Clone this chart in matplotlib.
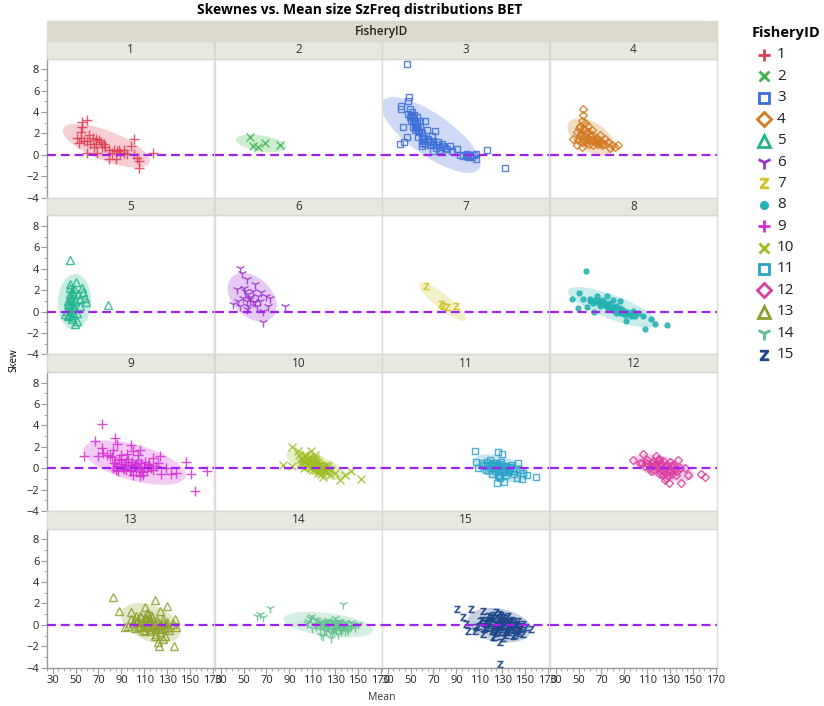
import numpy as np
import matplotlib
matplotlib.use('Agg')
import matplotlib.pyplot as plt
from matplotlib.patches import Rectangle
from matplotlib.lines import Line2D
from matplotlib.ticker import FixedLocator

plt.rcParams['font.family'] = ['Open Sans', 'DejaVu Sans']

# (Mean, Skew) pairs
f1 = np.array([[60.4, 3.3], [56, 3.1], [55.5, 2.6], [54.6, 2.1], [51, 1.6], [54.6, 1.6], [57.5, 1.3],
               [62, 1.9], [65, 1.6], [67.7, 1.5], [70.6, 1.4], [72, 1.2], [75, 1.0], [76, 0.7],
               [79, 0.5], [83.6, 0.5], [86.5, 0.4], [89, 0.2], [92, 0.2], [98, 0.8], [101, 1.5],
               [101, 0.06], [104, -0.25], [105, -0.6], [105, -1.2], [79, -0.4], [85, -0.4],
               [59.6, 0.2], [69, 0.2], [118, 0.2], [53, 1.15], [67.7, 1.0], [73.5, 0.7], [82, 0.2],
               [66, 0.7], [88, 0.5], [92, 0.5], [95, 0.06], [62.5, 1.0], [59.6, 1.3]])
f2 = np.array([[55.5, 1.7], [58.4, 0.85], [62.7, 0.75], [68.5, 1.15], [81.5, 0.9]])
f3 = np.array([[46.6, 8.5], [48.9, 5.4], [48, 5.07], [41.3, 4.6], [41.3, 4.3], [49.5, 4.3], [50.9, 4.0],
               [49.5, 3.5], [52.4, 3.4], [53.8, 3.05], [55.3, 3.5], [58.2, 3.2], [62.5, 3.2],
               [55.3, 2.7], [56.7, 2.3], [43, 2.6], [47.1, 1.65], [40.7, 1.0], [44.2, 1.2],
               [53.8, 2.3], [59.6, 1.8], [64, 2.3], [71.3, 2.2], [65.5, 1.5], [69.8, 1.3],
               [59.6, 1.1], [59.6, 0.8], [74.2, 1.2], [77.1, 1.0], [69.8, 0.4], [75.6, 0.7],
               [84.3, 0.8], [90.2, 0.56], [81.4, 0.56], [93, 0.03], [98.3, 0.03], [101.8, -0.07],
               [107.6, 0.09], [107.6, -0.38], [100.3, -0.22], [116.9, 0.46], [132.3, -1.2],
               [56.7, 1.65], [61.1, 1.5], [66.9, 1.2], [78.5, 0.87], [68.4, 1.8], [52.4, 2.6],
               [50.3, 3.2], [48, 3.8], [50, 3.6], [52, 3.3], [53, 3.7], [54, 2.9], [55, 2.5],
               [56, 3.0], [57, 2.1], [58, 2.6], [60, 2.0], [61, 1.3], [62, 1.6], [63, 1.0],
               [65, 1.3], [67, 0.9], [70, 1.0], [72, 0.6], [73, 0.9], [76, 0.5], [80, 0.6],
               [86, 0.4], [96, -0.1], [99, 0.1], [104, -0.2], [105, 0.0]])
f4 = np.array([[53.5, 4.3], [53.5, 3.7], [52.6, 3.2], [51.1, 2.7], [48.2, 2.1], [45.3, 1.5],
               [48.2, 0.9], [52.6, 0.7], [56.9, 1.2], [55.5, 2.3], [59.9, 1.8], [62.8, 1.5],
               [65.7, 1.6], [68.6, 1.3], [73, 1.5], [75.9, 1.2], [78.8, 0.9], [81.7, 0.7],
               [84.6, 0.9], [77.4, 0.6], [58.4, 2.7], [61.3, 2.3], [56.9, 2.0], [51.1, 1.8],
               [54, 1.5], [65.7, 1.1], [70.1, 0.9], [68.6, 1.9], [49.6, 1.4], [55.5, 3.0],
               [50, 2.5], [52, 2.0], [54, 2.4], [55, 1.8], [57, 1.5], [58, 2.1], [60, 1.4],
               [62, 1.9], [64, 1.2], [66, 1.4], [67, 1.0], [70, 1.1], [72, 1.0], [53, 1.2],
               [59, 1.0], [63, 0.9]])
f5 = np.array([[45.1, 4.8], [50.3, 2.8], [55.2, 2.2], [56.6, 1.8], [58, 1.3], [59.5, 0.85],
               [78.4, 0.6], [46.5, 1.9], [45.1, 1.3], [43.7, 0.7], [42.2, 0.06], [40.8, -0.25],
               [46.5, -0.7], [49.4, -1.2], [50.9, -0.9], [47.9, 0.37], [49.4, 1.0], [52.3, 1.6],
               [53.7, 0.5], [50.9, -0.1], [45.1, 2.55], [48.6, 2.1], [43.7, -0.4], [53.7, 1.15],
               [43, 1.0], [44, 0.5], [45, 1.6], [46, 0.2], [47, 1.1], [48, 0.0], [46, 0.8],
               [44, -0.3], [48, 1.7], [49, 0.4], [45, 2.2], [47, -0.5]])
f6 = np.array([[46.8, 4.1], [48.3, 3.6], [52.6, 3.0], [43.9, 2.1], [51.1, 1.9], [58.4, 1.9],
               [62.7, 1.5], [70, 1.5], [72.9, 1.3], [41, 0.7], [46.8, 0.5], [54.1, 0.5],
               [61.3, 0.5], [71.5, 0.5], [86, 0.5], [67.1, -1.0], [49.7, 1.3], [55.5, 1.15],
               [58.4, 0.85], [64.2, 1.0], [52.6, 0.2], [45.4, 1.0], [67.1, 0.06], [59.9, 2.55],
               [54.1, 1.6], [50, 2.2], [56, 1.4], [60, 0.9], [65, 1.8], [53, 1.0]])
f7 = np.array([[63.4, 2.4], [77.0, 0.75], [81.4, 0.44], [90.1, 0.5], [78.5, 0.5]])
f8 = np.array([[56.4, 3.77], [50.6, 1.74], [44.2, 1.2], [49.7, 0.34], [57, 0.44], [63.6, 0.0],
               [59.9, 0.97], [65.7, 1.43], [70.1, 1.12], [74.4, 1.43], [77.3, 0.81], [80.2, 1.12],
               [83.1, 0.5], [86, 0.97], [88.9, 0.19], [93.3, -0.12], [91.8, -0.9], [97.6, 0.03],
               [106.3, -0.44], [107.8, -1.6], [113.6, -0.69], [116.5, -1.12], [127.6, -1.3],
               [102, -0.12], [62.8, 0.81], [68.6, 0.5], [80.2, 0.19], [86, -0.12], [73, 0.65],
               [83.1, -0.12], [96.2, -0.44], [54, 1.2], [75.8, 0.34], [90.4, -0.28],
               [60, 1.2], [64, 1.1], [66, 0.9], [68, 1.0], [70, 0.7], [72, 0.9], [74, 0.5],
               [76, 0.7], [78, 0.3], [81, 0.4], [84, 0.2], [86, 0.3], [88, -0.1], [92, 0.0],
               [95, -0.3], [99, -0.4]])
f9 = np.array([[72.7, 4.1], [67.4, 2.55], [57.6, 1.1], [84.3, 2.8], [85.8, 2.3], [98.2, 2.2],
               [72.7, 1.87], [83.1, 1.7], [69.7, 1.1], [80, 1.1], [84.3, 0.47], [90.1, 0.78],
               [100.3, 1.56], [104.6, 1.25], [106.1, 1.7], [96, 0.31], [101.7, 0.16], [107.6, 0.0],
               [109, -0.62], [110.5, 0.62], [117.7, 0.93], [122.1, 0.47], [123.5, 1.09],
               [129.4, 0.0], [125, -0.56], [133.7, -0.56], [138.1, -0.47], [146.8, 0.56],
               [151.2, -0.56], [154.7, -2.1], [165.1, -0.25], [91.5, 0.0], [87.2, -0.31],
               [94.5, -0.16], [103.2, -0.31], [116.3, 0.0], [82.8, 0.0], [90.1, 1.25],
               [104.6, 0.78], [98.8, 0.31], [113.4, 0.31], [93, 0.31], [97.4, -0.31],
               [77.1, 1.25], [74.1, 1.4], [82, 1.0], [84, 0.5], [86, 0.2], [88, 0.9], [90, 0.4],
               [92, -0.1], [94, 0.6], [96, 0.9], [98, -0.2], [99, 0.6], [101, 0.2], [103, 0.4],
               [105, -0.1], [107, 0.5], [108, -0.4], [110, 0.1], [112, -0.3], [114, 0.4],
               [118, -0.2], [120, 0.2], [85, -0.2], [95, 1.3], [100, -0.6], [106, -0.7]])
f10 = np.array([[91.9, 2.0], [97.6, 1.6], [84.6, 0.25], [91.9, 0.16], [103.5, 1.2], [109.3, 1.56],
                [100.6, 0.47], [106.4, 0.78], [112.2, 0.31], [115.1, 0.62], [118, 0.0],
                [120.9, -0.31], [123.8, 0.16], [126.8, -0.16], [129.6, -0.47], [134, -1.09],
                [138.4, -0.62], [144.2, -0.25], [152.9, -1.0], [109.3, 0.0], [115.1, -0.47],
                [119.5, -0.78], [106.4, 0.16], [112.2, 0.93], [102.1, 0.87], [125.3, -0.62],
                [122.4, 0.31], [116.6, 0.16], [113.7, -0.16], [100, 0.9], [102, 0.5], [104, 1.1],
                [105, 0.3], [107, 0.6], [108, 1.0], [109, 0.1], [110, 0.6], [111, -0.2],
                [113, 0.5], [114, 0.1], [116, -0.2], [117, 0.3], [118, -0.5], [120, 0.0],
                [122, -0.4], [124, -0.1], [98, 1.2], [103, 0.0], [112, 1.2], [106, 0.4],
                [108, 0.8], [111, 0.3], [113, 0.8], [115, 0.3], [117, -0.1], [119, 0.2],
                [121, -0.2], [105, 0.9], [110, 0.4]])
f11 = np.array([[106.1, 1.56], [126.4, 1.5], [130.2, 1.34], [107.6, 0.62], [109, 0.06],
                [119.2, 0.78], [125, 0.47], [130.8, 0.16], [136.6, 0.0], [143.8, 0.47],
                [145.3, -0.16], [148.2, -0.47], [152, -0.62], [159.9, -0.84], [147.6, -1.03],
                [143, -0.93], [131.6, -1.25], [125.5, -1.4], [126.4, -0.69], [116.3, -0.16],
                [122.1, 0.0], [127.9, -0.31], [133.7, -0.62], [139.5, -0.31], [120.7, 0.31],
                [129.4, 0.62], [138.1, 0.31], [113.4, 0.31], [112, 0.5], [115, 0.2], [117, 0.6],
                [118, -0.2], [120, 0.4], [121, -0.5], [123, 0.2], [124, -0.1], [126, 0.3],
                [127, -0.6], [129, 0.1], [131, -0.3], [133, 0.2], [135, -0.4], [137, 0.1],
                [140, -0.5], [142, -0.1], [119, 0.0], [128, -0.9], [122, 0.5], [125, 0.1],
                [128, 0.4], [130, -0.1], [132, -0.4], [134, 0.1], [136, -0.2], [124, -0.3]])
f12 = np.array([[97.6, 0.78], [106.4, 1.31], [118, 1.09], [109.3, 0.47], [115.1, 0.16],
                [122.4, 0.47], [126.8, 0.0], [131.1, -0.31], [136.9, 0.78], [138.4, 0.0],
                [142.7, 0.0], [145.6, -0.62], [139.8, -1.4], [129, -1.4], [125.3, -1.09],
                [157.3, -0.56], [160.8, -0.78], [120.9, -0.31], [132.6, 0.31], [123.8, -0.62],
                [113.7, -0.31], [119.5, 0.78], [129.6, 0.62], [135.5, -0.62], [103.5, 0.47],
                [105, 0.5], [108, 0.2], [110, 0.8], [112, 0.0], [114, 0.5], [116, -0.2],
                [117, 0.4], [119, 0.1], [121, -0.5], [122, 0.2], [124, 0.7], [125, -0.3],
                [127, 0.3], [128, -0.7], [130, -0.1], [132, -0.5], [134, 0.0], [136, -0.3],
                [120, 0.9], [126, -0.9], [111, 0.4], [115, 0.7], [118, 0.3], [121, 0.5],
                [123, -0.2], [126, 0.2], [129, -0.3], [131, 0.2], [133, -0.2]])
f13 = np.array([[83.1, 2.6], [87.8, 1.34], [98.2, 1.18], [110.5, 1.65], [119.2, 2.34], [130.2, 1.74],
                [123.5, 1.34], [136.6, 0.56], [96, -0.06], [93, -0.22], [101.7, 0.4], [107.6, 0.72],
                [113.4, 0.25], [116.3, -0.37], [122.1, -1.62], [122.7, -1.93], [136, -2.0],
                [127.9, -1.0], [120.7, -0.84], [110.5, -0.53], [104.6, -0.22], [119.2, 0.09],
                [126.4, 0.56], [130.8, -0.22], [138.1, -0.22], [135.2, 0.09], [98.8, 0.56],
                [103.2, 0.87], [113.4, 1.03], [125, -0.37], [116.3, 0.4], [100, 0.2], [102, -0.3],
                [104, 0.4], [106, -0.1], [108, 0.3], [109, -0.5], [111, 0.6], [112, -0.2],
                [114, 0.3], [115, -0.6], [117, 0.7], [118, 0.0], [120, -0.4], [121, 0.5],
                [123, -0.1], [124, -0.7], [126, 0.2], [128, -0.3], [130, 0.3], [132, -0.5],
                [106, 0.8], [112, 1.1], [116, 0.9], [119, -1.0], [126, -1.3], [105, 0.3],
                [110, 0.0], [113, 0.6], [117, -0.2], [122, 0.2], [125, 0.0], [129, 0.1]])
f14 = np.array([[61.4, 0.87], [64.2, 0.97], [67.1, 0.72], [73, 1.56], [136.9, 1.96], [109.3, 0.87],
                [112.2, 0.56], [106.4, 0.4], [118, 0.25], [123.8, -0.06], [129.6, 0.09],
                [135.5, -0.22], [141.3, -0.06], [150, 0.09], [119.5, -1.0], [125.3, -0.69],
                [132.6, -0.84], [138.4, -0.53], [126.8, 0.4], [132.6, 0.4], [144.2, 0.25],
                [116.6, -0.37], [129.6, -0.37], [122.4, -0.22], [138.4, 0.25], [113.7, -0.06],
                [105, 0.2], [108, 0.6], [110, -0.3], [114, 0.5], [117, 0.0], [120, -0.5],
                [121, 0.3], [124, 0.5], [127, -0.8], [128, 0.0], [131, -0.2], [133, 0.2],
                [135, -0.6], [137, 0.0], [140, -0.3], [143, -0.2], [146, 0.1], [118, -0.9],
                [126, -1.2], [130, 0.6], [119, 0.1], [122, -0.6], [125, 0.2], [127, -0.3],
                [129, 0.3], [131, -0.5], [133, -0.1], [134, 0.4], [136, -0.4], [139, 0.1],
                [141, -0.5], [144, -0.1], [147, -0.2], [123, 0.4], [120, 0.0], [116, 0.3],
                [112, 0.1], [128, -0.5], [134, -0.3], [138, -0.1]])
f15 = np.array([[90.7, 1.5], [103.2, 1.5], [113.4, 1.34], [96, 0.72], [98.8, 0.09], [100.3, -0.53],
                [125, 1.18], [110.5, 0.4], [116.3, 0.09], [122.1, -0.22], [127.9, -0.06],
                [133.7, 0.25], [139.5, -0.22], [145.3, -0.06], [151.2, -0.22], [155.5, -0.37],
                [148.2, -0.84], [139.5, -1.0], [127.9, -1.62], [122.1, -1.15], [113.4, -0.84],
                [107.6, -0.22], [119.2, 0.72], [130.8, 0.72], [138.1, 0.4], [127.9, -3.64],
                [106.1, -0.53], [132.3, -0.69], [125, -0.53], [143.8, -0.53], [112, 0.5],
                [115, 0.2], [118, -0.3], [120, 0.4], [122, 0.9], [124, 0.1], [125, -0.8],
                [126, 0.5], [128, -0.4], [129, 0.9], [130, 0.0], [131, -1.2], [132, 0.5],
                [134, -0.3], [135, 0.8], [136, -0.7], [137, 0.1], [140, 0.3], [141, -0.9],
                [142, 0.1], [144, 0.4], [146, -0.4], [148, 0.1], [118, 0.8], [121, -0.6],
                [127, 1.0], [133, -0.9], [123, -1.1], [138, -0.4], [116, -0.2], [110, -0.1],
                [145, -0.8], [119, 0.2], [121, 0.6], [123, -0.4], [124, 0.6], [126, -0.2],
                [127, 0.3], [129, -0.7], [130, 0.5], [132, -0.1], [133, 0.6], [134, -0.6],
                [136, 0.3], [138, -0.1], [139, 0.5], [141, -0.3], [143, 0.0], [117, 0.5],
                [114, -0.4], [128, 0.7], [135, 0.0], [131, 0.3], [125, 0.0]])

fishery_ids = list(range(1, 16))
fishery_data = [f1, f2, f3, f4, f5, f6, f7, f8, f9, f10, f11, f12, f13, f14, f15]
colors = ['#dc3c50', '#3cb44b', '#3d6fd8', '#d2781f', '#22b48c', '#9a32d0', '#cdc52a', '#24b2b2',
          '#d22dd2', '#9dbd23', '#2aa2c8', '#db3da0', '#8ea02b', '#5ec08c', '#1d4789']
z_mark = '$\\mathsf{Z}$'
markers = ['+', 'x', 's', 'D', '^', '1', z_mark, 'o', '+', 'x', 's', 'D', '^', '1', z_mark]
msizes = {'+': 6.5, 'x': 5.5, 's': 4.5, 'D': 4.5, '^': 5.5, '1': 7, z_mark: 4.8, 'o': 3.5}
legend_sizes = {'+': 9, 'x': 7.5, 's': 7, 'D': 7.5, '^': 8.5, '1': 10, z_mark: 7, 'o': 4.5}

W, H = 824, 706
fig = plt.figure(figsize=(W / 100, H / 100), dpi=100)


def fx(px):
    return px / W


def fy(py):
    return 1 - py / H


def ellipse_outline(pts, level=0.9):
    cov = np.cov(pts[:, 0], pts[:, 1])
    vals, vecs = np.linalg.eigh(cov)
    k = np.sqrt(-2 * np.log(1 - level))
    t = np.linspace(0, 2 * np.pi, 120)
    circ = np.vstack([np.cos(t), np.sin(t)])
    e = vecs @ (np.sqrt(np.clip(vals, 0, None))[:, None] * circ) * k
    return pts[:, 0].mean() + e[0], pts[:, 1].mean() + e[1]


col_left = [47, 215, 382, 550]
col_w = 167
row_strip = [41, 197.7, 354.3, 511]
strip_h = 17.5
plot_h = 139.2
strip_color = '#e8e8e0'
line_gray = '#dcdcdc'
dark_gray = '#9a9a9a'

# header band
fig.patches.append(Rectangle((fx(47), fy(41)), fx(717) - fx(47), fy(21) - fy(41),
                             transform=fig.transFigure, color='#dcdacb', zorder=0))
fig.text(fx(382), fy(31), 'FisheryID', ha='center', va='center', fontsize=8.5,
         color='#222222', fontweight='semibold')
fig.text(fx(360), fy(10), 'Skewnes vs. Mean size SzFreq distributions BET', ha='center',
         va='center', fontsize=10, fontweight='bold')

for i in range(16):
    r, c = divmod(i, 4)
    top = row_strip[r] + strip_h
    ax = fig.add_axes([fx(col_left[c]), fy(top + plot_h), col_w / W, plot_h / H])
    # strip
    fig.patches.append(Rectangle((fx(col_left[c]), fy(top)), col_w / W, strip_h / H,
                                 transform=fig.transFigure, facecolor=strip_color,
                                 edgecolor='#d8d8d0', lw=1, zorder=0))
    label = str(fishery_ids[i]) if i < 15 else ''
    fig.text(fx(col_left[c] + col_w / 2), fy(top - strip_h / 2), label, ha='center',
             va='center', fontsize=8.5, color='#333333')

    ax.set_xlim(25, 171)
    ax.set_ylim(-4, 9)
    ax.axhline(0, color='#a020f0', lw=1.6, ls=(0, (4, 2.2)), zorder=3)

    if i < 15:
        pts = fishery_data[i]
        ex, ey = ellipse_outline(pts)
        ax.fill(ex, ey, color=colors[i], alpha=0.25, lw=0, zorder=1)
        m = markers[i]
        open_m = m in ('s', 'D', '^')
        ax.plot(pts[:, 0], pts[:, 1], ls='none', marker=m, ms=msizes[m],
                color=colors[i], mfc='none' if open_m else colors[i],
                mew=0.6 if m == z_mark else 1.0, alpha=0.85, zorder=2)

    for s in ax.spines.values():
        s.set_color(line_gray)
        s.set_linewidth(1.0)
    ax.xaxis.set_major_locator(FixedLocator(np.arange(30, 171, 20)))
    ax.xaxis.set_minor_locator(FixedLocator(np.arange(25, 171, 5)))
    ax.yaxis.set_major_locator(FixedLocator(np.arange(-4, 9, 2)))
    ax.yaxis.set_minor_locator(FixedLocator(np.arange(-4, 9, 1)))
    ax.tick_params(which='both', colors=dark_gray, labelcolor='#222222', labelsize=8)
    ax.tick_params(which='major', length=4)
    ax.tick_params(which='minor', length=2.5)
    if c == 0:
        ax.spines['left'].set_color(dark_gray)
        ax.tick_params(axis='y', which='both', left=True, labelleft=True, pad=1.5)
    else:
        ax.tick_params(axis='y', which='both', left=False, labelleft=False)
    if r == 3:
        ax.spines['bottom'].set_color(dark_gray)
        ax.tick_params(axis='x', which='both', bottom=True, labelbottom=True, pad=1.5)
    else:
        ax.tick_params(axis='x', which='both', bottom=False, labelbottom=False)

fig.text(fx(14), fy(360), 'Skew', rotation=90, ha='center', va='center', fontsize=7)
fig.text(fx(382), fy(698), 'Mean', ha='center', va='center', fontsize=7.5, color='#333333')

# legend
fig.text(fx(752), fy(33), 'FisheryID', ha='left', va='center', fontsize=10.5, fontweight='bold')
for k, fid in enumerate(fishery_ids):
    yy = 55 + 21.4 * k
    m = markers[k]
    open_m = m in ('s', 'D', '^')
    fig.add_artist(Line2D([fx(764)], [fy(yy)], transform=fig.transFigure, ls='none', marker=m,
                          ms=legend_sizes[m], color=colors[k],
                          mfc='none' if open_m else colors[k],
                          mew=1.2 if m == z_mark else 2.0))
    fig.text(fx(777), fy(yy), str(fid), ha='left', va='center', fontsize=11, color='#222222')

fig.savefig('out.png', dpi=100)
